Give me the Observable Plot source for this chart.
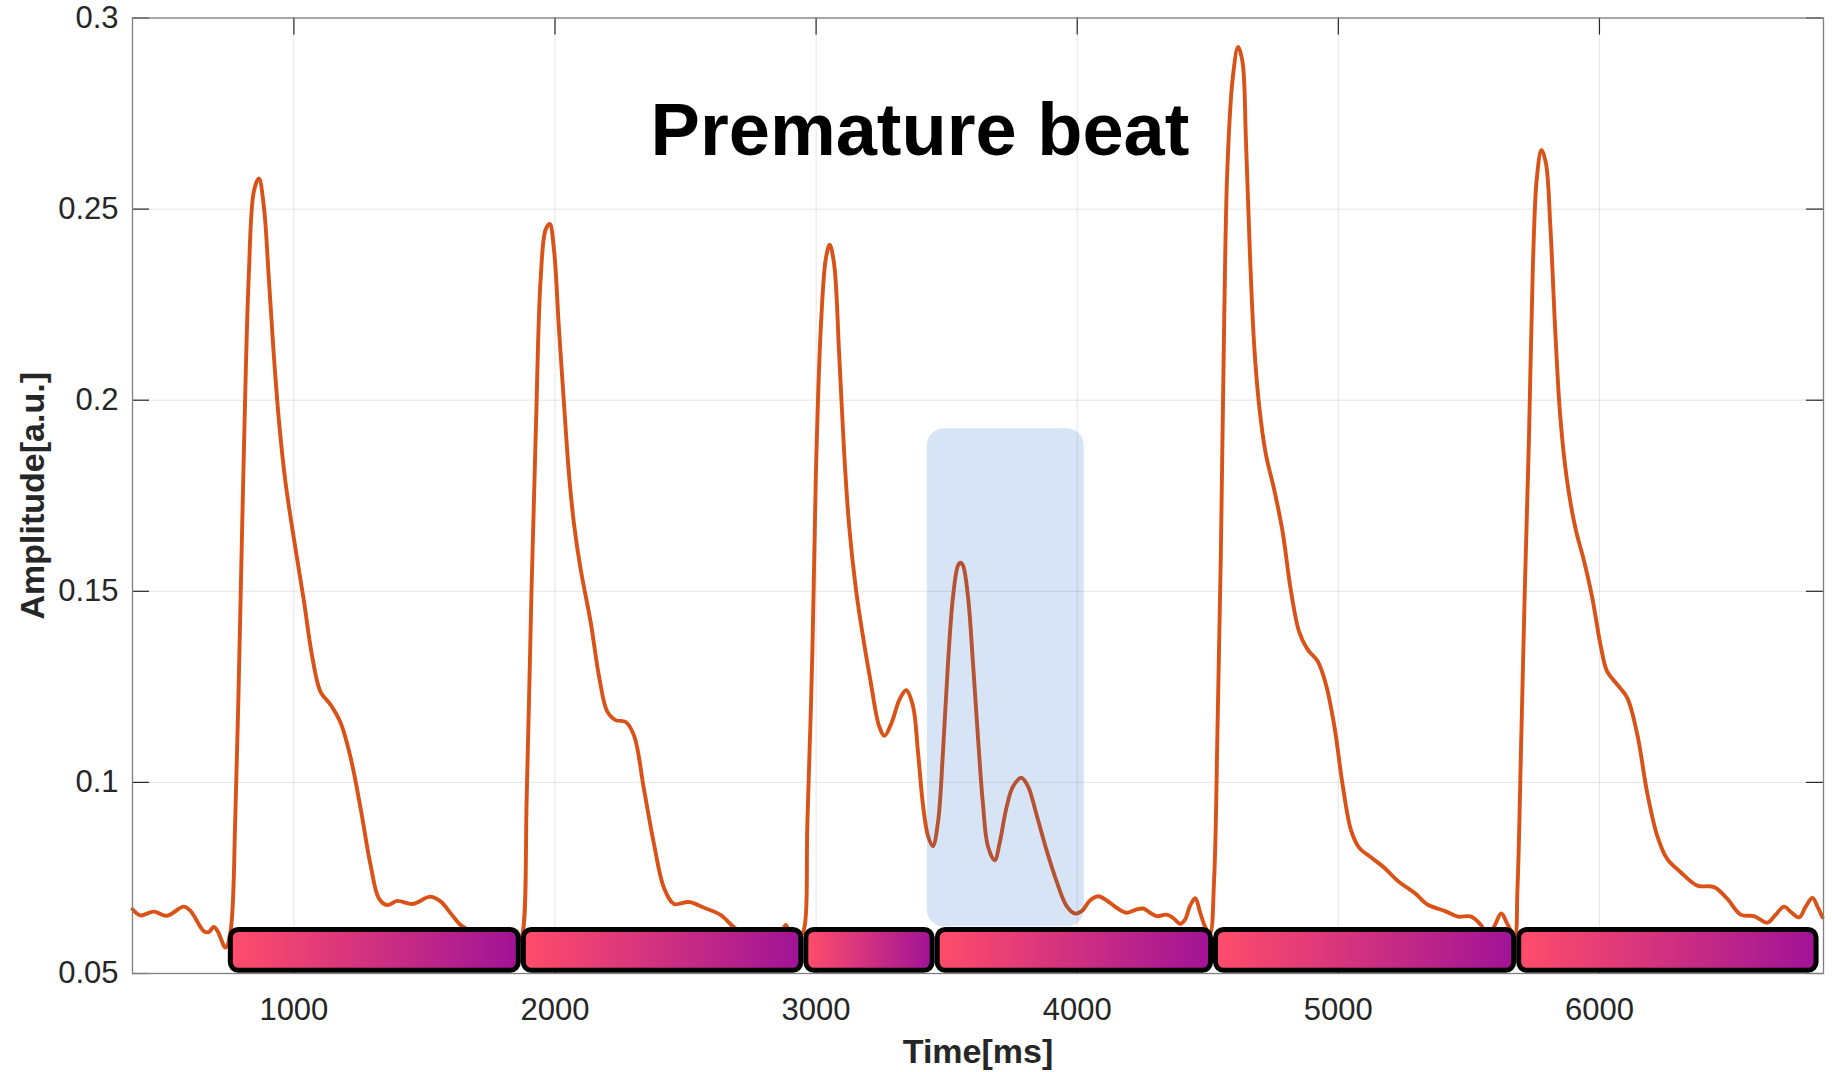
<!DOCTYPE html>
<html>
<head>
<meta charset="utf-8">
<script src="https://cdn.jsdelivr.net/npm/d3@7"></script>
<script src="https://cdn.jsdelivr.net/npm/@observablehq/plot@0.6"></script>
<style>
html,body{margin:0;padding:0;background:#ffffff;}
#chart svg{display:block;}
</style>
</head>
<body>
<div id="chart"></div>
<script>
// ---------------- data ----------------
const timeMs = [
  382, 412, 463, 514, 578, 604, 655, 674, 693, 708, 738, 757, 776, 795, 808, 827, 847, 866, 885, 904,
  923, 943, 968, 1000, 1038, 1070, 1102, 1141, 1179, 1218, 1256, 1294, 1326, 1358, 1396, 1454, 1524, 1563, 1601, 1640,
  1665, 1710, 1770, 1830, 1860, 1874, 1892, 1910, 1927, 1945, 1964, 1980, 1996, 2015, 2034, 2054, 2073, 2098, 2137, 2169,
  2200, 2232, 2271, 2303, 2341, 2379, 2418, 2456, 2513, 2571, 2635, 2686, 2740, 2800, 2860, 2884, 2900, 2930, 2948, 2967,
  2986, 2999, 3018, 3037, 3052, 3069, 3088, 3107, 3126, 3152, 3177, 3209, 3241, 3262, 3288, 3320, 3345, 3371, 3390, 3409,
  3428, 3447, 3467, 3486, 3505, 3524, 3543, 3553, 3563, 3582, 3601, 3620, 3639, 3658, 3684, 3703, 3729, 3754, 3786, 3812,
  3844, 3882, 3921, 3959, 3991, 4017, 4049, 4081, 4113, 4151, 4189, 4221, 4253, 4279, 4304, 4343, 4368, 4394, 4413, 4432,
  4452, 4471, 4490, 4508, 4524, 4537, 4550, 4563, 4575, 4595, 4616, 4633, 4646, 4662, 4678, 4697, 4722, 4754, 4786, 4818,
  4850, 4882, 4921, 4953, 4985, 5017, 5049, 5081, 5125, 5177, 5228, 5292, 5343, 5407, 5458, 5509, 5547, 5573, 5599, 5624,
  5650, 5675, 5686, 5699, 5714, 5730, 5745, 5760, 5778, 5795, 5812, 5831, 5850, 5876, 5908, 5940, 5972, 6004, 6029, 6068,
  6106, 6145, 6183, 6221, 6260, 6311, 6375, 6439, 6490, 6541, 6592, 6643, 6675, 6707, 6733, 6765, 6790, 6816, 6835, 6854
];
const amplitude = [
  0.0668, 0.0652, 0.0662, 0.0651, 0.0675, 0.0664, 0.0611, 0.0608, 0.0622, 0.0611, 0.0568, 0.0608, 0.0916, 0.1450, 0.1850, 0.2320, 0.2547, 0.2580, 0.2507, 0.2320,
  0.2120, 0.1945, 0.1785, 0.1638, 0.1477, 0.1330, 0.1237, 0.1203, 0.1156, 0.1063, 0.0930, 0.0783, 0.0696, 0.0679, 0.0690, 0.0682, 0.0701, 0.0688, 0.0657, 0.0626,
  0.0616, 0.0598, 0.0585, 0.0583, 0.0585, 0.0600, 0.0970, 0.1500, 0.1930, 0.2317, 0.2446, 0.2461, 0.2395, 0.2189, 0.1996, 0.1803, 0.1675, 0.1559, 0.1418, 0.1276,
  0.1186, 0.1163, 0.1158, 0.1122, 0.0981, 0.0839, 0.0723, 0.0682, 0.0687, 0.0672, 0.0653, 0.0621, 0.0600, 0.0595, 0.0600, 0.0627, 0.0605, 0.0598, 0.0605, 0.0904,
  0.1353, 0.1803, 0.2189, 0.2369, 0.2407, 0.2356, 0.2125, 0.1868, 0.1675, 0.1508, 0.1392, 0.1263, 0.1148, 0.1122, 0.1154, 0.1218, 0.1241, 0.1200, 0.1081, 0.0943,
  0.0861, 0.0833, 0.0897, 0.1081, 0.1310, 0.1484, 0.1567, 0.1575, 0.1567, 0.1484, 0.1310, 0.1117, 0.0943, 0.0833, 0.0796, 0.0842, 0.0934, 0.0989, 0.1012, 0.0989,
  0.0916, 0.0824, 0.0741, 0.0677, 0.0657, 0.0663, 0.0691, 0.0702, 0.0691, 0.0672, 0.0659, 0.0666, 0.0670, 0.0659, 0.0650, 0.0654, 0.0645, 0.0630, 0.0641, 0.0677,
  0.0697, 0.0659, 0.0622, 0.0605, 0.0742, 0.1130, 0.1596, 0.2217, 0.2606, 0.2839, 0.2924, 0.2885, 0.2683, 0.2373, 0.2140, 0.1984, 0.1860, 0.1767, 0.1658, 0.1503,
  0.1394, 0.1348, 0.1317, 0.1255, 0.1146, 0.0991, 0.0874, 0.0828, 0.0804, 0.0776, 0.0742, 0.0711, 0.0680, 0.0664, 0.0649, 0.0649, 0.0626, 0.0598, 0.0626, 0.0657,
  0.0626, 0.0598, 0.0722, 0.1069, 0.1500, 0.1900, 0.2350, 0.2580, 0.2655, 0.2620, 0.2454, 0.2177, 0.1956, 0.1789, 0.1665, 0.1582, 0.1485, 0.1360, 0.1291, 0.1256,
  0.1222, 0.1125, 0.0972, 0.0861, 0.0799, 0.0765, 0.0730, 0.0726, 0.0695, 0.0654, 0.0650, 0.0633, 0.0654, 0.0675, 0.0661, 0.0647, 0.0675, 0.0698, 0.0675, 0.0647
];

// beat onsets (ms) delimiting the coloured segments
const beatOnsets = [749, 1871, 2953, 3456, 4522, 5683, 6841];
const segmentLow = 0.0507;
const segmentHigh = 0.0614;

// highlighted premature beat window
const highlightStart = 3426;
const highlightEnd = 4027;
const highlightLow = 0.0622;
const highlightHigh = 0.1925;

const xDomain = [382, 6858];
const yDomain = [0.05, 0.3];
const xTicks = [1000, 2000, 3000, 4000, 5000, 6000];
const xTickLabels = ["1000", "2000", "3000", "4000", "5000", "6000"];
const yTicks = [0.05, 0.1, 0.15, 0.2, 0.25, 0.3];
const yTickLabels = ["0.05", "0.1", "0.15", "0.2", "0.25", "0.3"];

const titleText = "Premature beat";
const xLabel = "Time[ms]";
const yLabel = "Amplitude[a.u.]";

// ---------------- build ----------------
const signal = timeMs.map((t, i) => ({t, a: amplitude[i]}));
const segments = beatOnsets.slice(0, -1).map((s, i) => ({start: s, end: beatOnsets[i + 1], low: segmentLow, high: segmentHigh}));
const highlight = [{start: highlightStart, end: highlightEnd, low: highlightLow, high: highlightHigh}];

const W = 1832, H = 1072;
const mL = 132, mR = 9, mT = 17.5, mB = 99;
const plotW = W - mL - mR;
const plotH = H - mT - mB;
const TICK = 17;
const axisGray = "#262626";

const svg = Plot.plot({
  width: W,
  height: H,
  marginLeft: mL,
  marginRight: mR,
  marginTop: mT,
  marginBottom: mB,
  style: {fontFamily: "'Liberation Sans', Arial, Helvetica, sans-serif", background: "#ffffff", color: axisGray},
  x: {domain: xDomain},
  y: {domain: yDomain},
  marks: [
    Plot.ruleX(xTicks, {x: d => d, stroke: axisGray, strokeOpacity: 0.12, strokeWidth: 1}),
    Plot.ruleY(yTicks, {y: d => d, stroke: axisGray, strokeOpacity: 0.12, strokeWidth: 1}),
    // inward tick marks on all four sides
    Plot.tickX(xTicks, {x: d => d, insetBottom: plotH - TICK, stroke: axisGray, strokeWidth: 1.2}),
    Plot.tickX(xTicks, {x: d => d, insetTop: plotH - TICK, stroke: axisGray, strokeWidth: 1.2}),
    Plot.tickY(yTicks, {y: d => d, insetRight: plotW - TICK, stroke: axisGray, strokeWidth: 1.2}),
    Plot.tickY(yTicks, {y: d => d, insetLeft: plotW - TICK, stroke: axisGray, strokeWidth: 1.2}),
    Plot.axisX(xTicks, {tickSize: 0, tickPadding: 24, fontSize: 31, fill: axisGray, label: null,
      tickFormat: d => xTickLabels[xTicks.indexOf(d)]}),
    Plot.axisY(yTicks, {tickSize: 0, tickPadding: 14, fontSize: 31, fill: axisGray, label: null,
      tickFormat: d => yTickLabels[yTicks.indexOf(d)]}),
    Plot.line(signal, {x: "t", y: "a", stroke: "#d95319", strokeWidth: 3.9, curve: "catmull-rom"}),
    Plot.rect(highlight, {x1: "start", x2: "end", y1: "low", y2: "high", fill: "rgb(0,86,192)", fillOpacity: 0.16, rx: 17}),
    Plot.rect(segments, {x1: "start", x2: "end", y1: "low", y2: "high", insetLeft: 2.5, insetRight: 2.5,
      rx: 8, fill: "url(#segGrad)", stroke: "#000000", strokeWidth: 5}),
    Plot.frame({stroke: "#7f7f7f", strokeWidth: 1.3}),
    Plot.text([titleText], {text: d => d, frameAnchor: "top", textAnchor: "middle", dx: -58, dy: 84, fontSize: 74, fontWeight: "bold", fill: "#000000"}),
    Plot.text([xLabel], {text: d => d, frameAnchor: "bottom", textAnchor: "middle", dy: 89, fontSize: 34, fontWeight: "bold", fill: axisGray}),
    Plot.text([yLabel], {text: d => d, frameAnchor: "left", textAnchor: "middle", dx: -99, rotate: -90, fontSize: 34, fontWeight: "bold", fill: axisGray})
  ]
});

const defs = document.createElementNS("http://www.w3.org/2000/svg", "defs");
defs.innerHTML = '<linearGradient id="segGrad" x1="0" x2="1" y1="0" y2="0">' +
  '<stop offset="0" stop-color="#ff4d6a"/><stop offset="1" stop-color="#a01397"/></linearGradient>';
svg.insertBefore(defs, svg.firstChild);

document.getElementById("chart").appendChild(svg);
</script>
</body>
</html>
